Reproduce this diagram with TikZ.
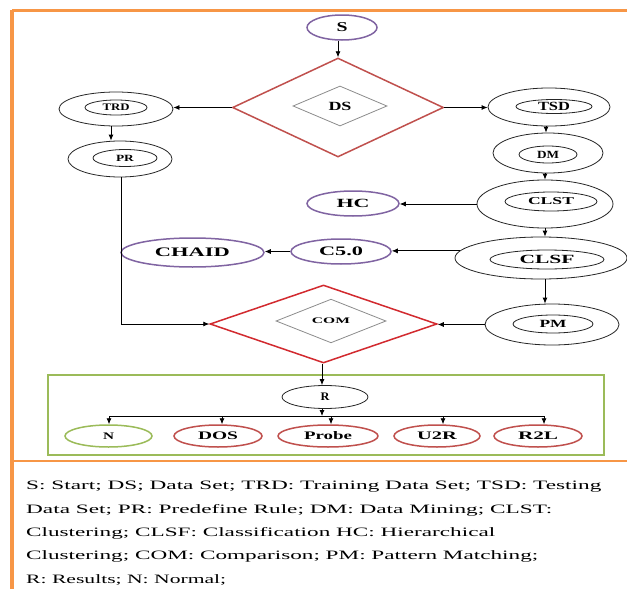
\documentclass[tikz,border=0pt]{standalone}
\usepackage{fontspec}
\setmainfont{Liberation Serif}
\usepackage{graphicx}
\usetikzlibrary{shapes.geometric,arrows.meta}
\definecolor{orangeC}{HTML}{F79646}
\definecolor{purpleC}{HTML}{8064A2}
\definecolor{redC}{HTML}{C0504D}
\definecolor{redB}{HTML}{D22A2F}
\definecolor{greenC}{HTML}{9BBB59}
\definecolor{grayC}{HTML}{8C8C8C}
\newcommand\lbl[3]{\fontsize{#1}{#1}\selectfont\resizebox{#2pt}{\height}{\textbf{#3}}}
\newcommand\legl[2]{\fontsize{12.8}{14}\selectfont\resizebox{#1pt}{\height}{#2}}
\begin{document}
\begin{tikzpicture}[x=1pt,y=-1pt,
  ell/.style={ellipse, draw=black!85, line width=0.8pt, inner sep=0pt},
  pur/.style={ellipse, draw=purpleC, line width=1.5pt, inner sep=0pt},
  redell/.style={ellipse, draw=redC, line width=1.5pt, inner sep=0pt},
  grnell/.style={ellipse, draw=greenC, line width=1.5pt, inner sep=0pt},
  bigdia/.style={diamond, line width=1.5pt, inner sep=0pt},
  smalldia/.style={diamond, draw=grayC, line width=0.8pt, inner sep=0pt},
  arr/.style={-{Latex[length=6pt,width=5pt]}, line width=0.8pt, black},
  ln/.style={line width=0.8pt, black},
  legend/.style={anchor=base west, inner sep=0pt}]
\useasboundingbox (0,0) rectangle (627,589);
\fill[white] (0,0) rectangle (627,589);
% frame
\draw[orangeC, line width=2.5pt] (12,10.7) -- (627,10.7);
\draw[orangeC, line width=4pt] (12,9.5) -- (12,589);
\draw[orangeC, line width=1.5pt] (12,461) -- (627,461);
% green box
\draw[greenC, line width=2pt] (48.3,374.5) rectangle (604,455);

% nodes
\node[pur, minimum width=70pt, minimum height=25pt] (S) at (342,27.5) {\lbl{13.5}{11}{S}};
\node[bigdia, draw=redC, minimum width=211pt, minimum height=99pt] (DS) at (338,107.5) {};
\node[smalldia, minimum width=94pt, minimum height=40pt] (DSi) at (340,106) {\lbl{12.5}{23}{DS}};

\node[ell, minimum width=114pt, minimum height=34pt] (TRD) at (116,109) {};
\node[ell, minimum width=62pt, minimum height=15pt] (TRDi) at (116,107.5) {\lbl{10}{27}{TRD}};
\node[ell, minimum width=104pt, minimum height=36pt] (PR) at (120,159) {};
\node[ell, minimum width=64pt, minimum height=17pt] (PRi) at (125,158) {\lbl{9.5}{18}{PR}};

\node[ell, minimum width=122pt, minimum height=38pt] (TSD) at (549,107) {};
\node[ell, minimum width=76pt, minimum height=14pt] (TSDi) at (554,106.5) {\lbl{12.5}{32}{TSD}};
\node[ell, minimum width=110pt, minimum height=40pt] (DM) at (548,153) {};
\node[ell, minimum width=58pt, minimum height=17pt] (DMi) at (548,154.5) {\lbl{11}{22}{DM}};
\node[ell, minimum width=136pt, minimum height=48pt] (CLST) at (545,204) {};
\node[ell, minimum width=92pt, minimum height=19pt] (CLSTi) at (551,201.5) {\lbl{10.5}{46}{CLST}};
\node[pur, minimum width=92pt, minimum height=25pt] (HC) at (353,203.5) {\lbl{12.5}{33}{HC}};
\node[ell, minimum width=172pt, minimum height=42pt] (CLSF) at (541,258) {};
\node[ell, minimum width=114pt, minimum height=19pt] (CLSFi) at (547,259.5) {\lbl{12.5}{55}{CLSF}};
\node[pur, minimum width=100pt, minimum height=25pt] (C50) at (341,251.5) {\lbl{13}{44}{C5.0}};
\node[pur, minimum width=143pt, minimum height=29pt] (CHAID) at (192.5,252.5) {\lbl{13}{75}{CHAID}};
\node[ell, minimum width=134pt, minimum height=41pt] (PM) at (552,324.5) {};
\node[ell, minimum width=80pt, minimum height=18pt] (PMi) at (553,324) {\lbl{11}{27}{PM}};

\node[bigdia, draw=redB, minimum width=227pt, minimum height=78pt] (COM) at (323.5,324) {};
\node[smalldia, minimum width=110pt, minimum height=28pt] (COMi) at (331,321) {\lbl{8.5}{38}{COM}};

\node[ell, minimum width=86pt, minimum height=23pt] (R) at (325,397) {\lbl{11.5}{9}{R}};
\node[grnell, minimum width=87pt, minimum height=22pt] (N) at (108.5,436) {\lbl{10}{11}{N}};
\node[redell, minimum width=88pt, minimum height=22pt] (DOS) at (218,436) {\lbl{11.5}{40}{DOS}};
\node[redell, minimum width=100pt, minimum height=22pt] (Probe) at (328,436) {\lbl{11.5}{48}{Probe}};
\node[redell, minimum width=86pt, minimum height=22pt] (U2R) at (437,436) {\lbl{11.5}{40}{U2R}};
\node[redell, minimum width=88pt, minimum height=22pt] (R2L) at (538,436) {\lbl{11.5}{40}{R2L}};

% connectors
\draw[arr] (DS.north |- S.south) -- (DS.north);
\draw[arr] (DS.west) -- (DS.west -| TRD.east);
\draw[arr] ([xshift=-5pt]TRD.south) -- ([xshift=-5pt]TRD.south |- PR.north);
\draw[arr] (DS.east) -- (DS.east -| TSD.west);
\draw[arr] ([xshift=-3pt]TSD.south) -- ([xshift=-3pt]TSD.south |- DM.north);
\draw[arr] (CLST.north |- DM.south) -- (CLST.north);
\draw[arr] (CLST.west) -- (CLST.west -| HC.east);
\draw[arr] (CLST.south) -- (CLST.south |- CLSF.north);
\draw[arr] (CLSF.175) -- (CLSF.175 -| C50.east);
\draw[arr] (C50.west) -- (C50.west -| CHAID.east);
\draw[arr] ([xshift=4pt]CLSF.south) -- ([xshift=4pt]CLSF.south |- PM.north);
\draw[arr] (PM.west) -- (PM.west -| COM.east);
\draw[arr] ([xshift=1.5pt]PR.south) |- (COM.west);
\draw[arr] ([xshift=-1.5pt]COM.south) -- ([xshift=-1.5pt]COM.south |- R.north);
\coordinate (busL) at ([xshift=0.5pt]N.north |- 0,416);
\coordinate (busR) at ([xshift=6pt]R2L.north |- 0,416);
\draw[ln] (busL) -- (busR);
\draw[arr] ([xshift=-3pt]R.south) -- ([xshift=-3pt]R.south |- busL);
\draw[arr] ([xshift=0.5pt]N.north |- busL) -- ([xshift=0.5pt]N.north);
\draw[arr] ([xshift=4pt]DOS.north |- busL) -- ([xshift=4pt]DOS.north);
\draw[arr] ([xshift=3pt]Probe.north |- busL) -- ([xshift=3pt]Probe.north);
\draw[arr] ([xshift=6pt]U2R.north |- busL) -- ([xshift=6pt]U2R.north);
\draw[arr] ([xshift=6pt]R2L.north |- busL) -- ([xshift=6pt]R2L.north);

% legend
\node[legend] (L1) at (26,489) {\legl{575}{S: Start; DS; Data Set; TRD: Training Data Set; TSD: Testing}};
\node[legend] (L2) at (26,513) {\legl{526}{Data Set; PR: Predefine Rule; DM: Data Mining; CLST:}};
\node[legend] (L3) at (26,536) {\legl{469}{Clustering; CLSF: Classification HC: Hierarchical}};
\node[legend] (L4) at (26,559.5) {\legl{512}{Clustering; COM: Comparison; PM: Pattern Matching;}};
\node[legend] (L5) at (26,583) {\legl{200}{R: Results; N: Normal;}};
\end{tikzpicture}
\end{document}
